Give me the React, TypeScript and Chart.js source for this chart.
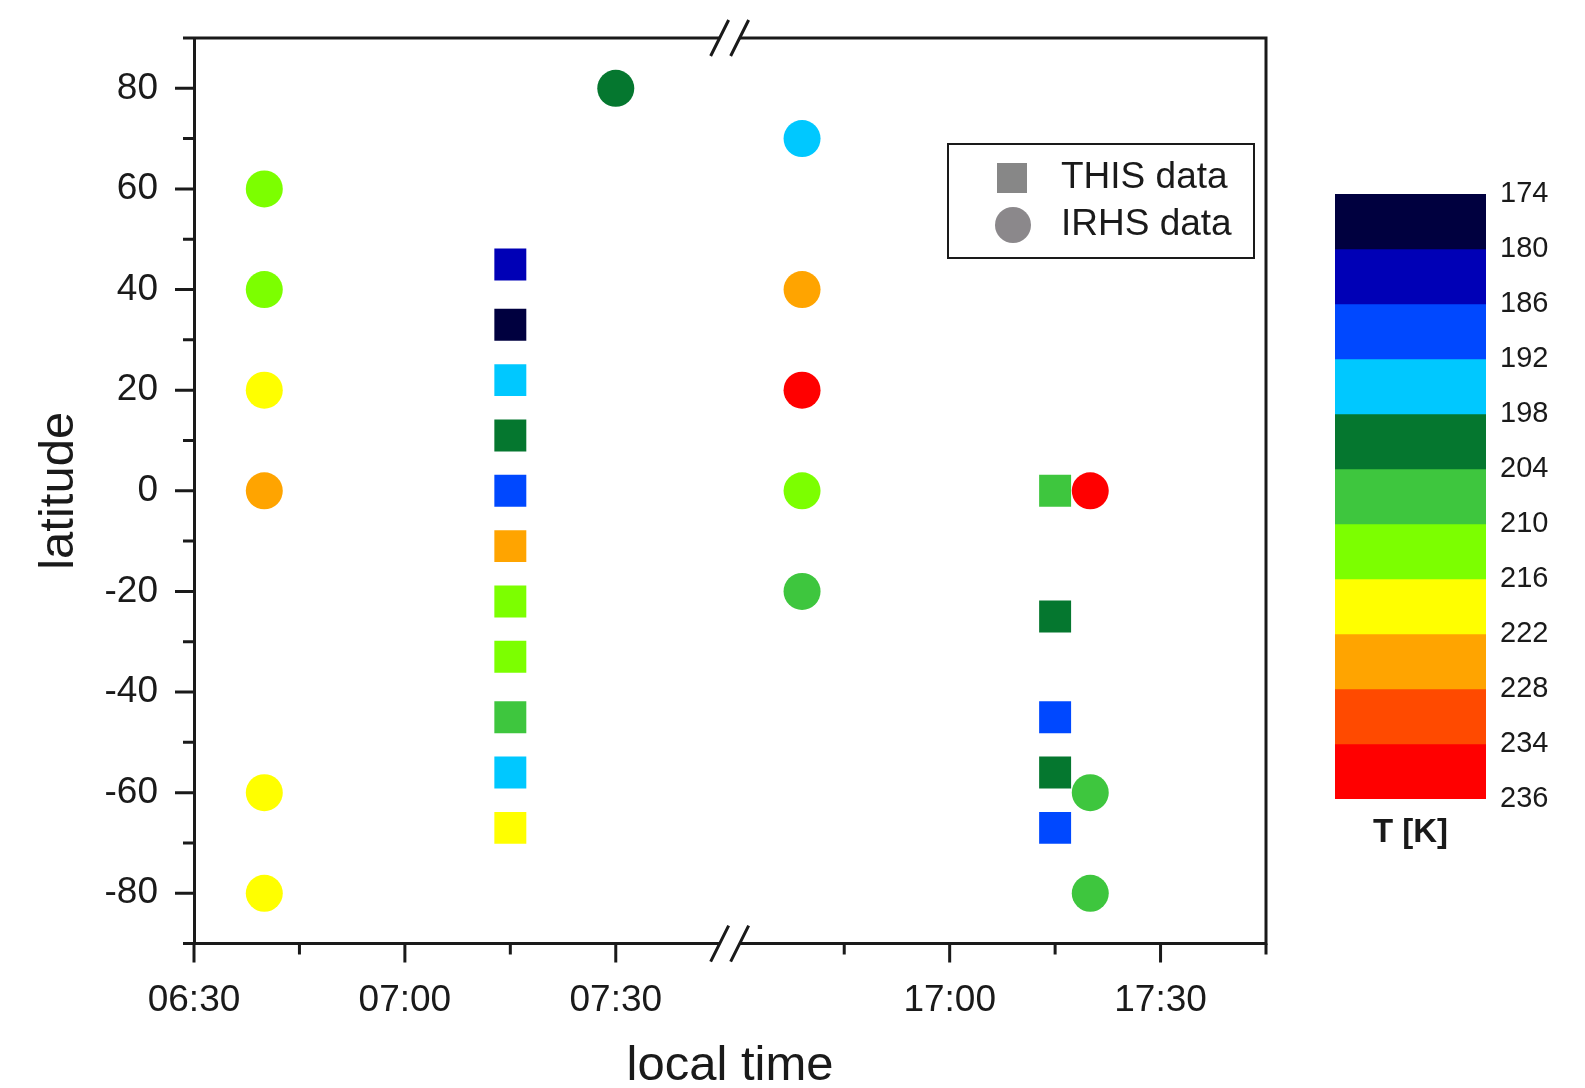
import React, { useEffect, useRef } from "react";
import { Chart, registerables } from "chart.js";

Chart.register(...registerables);

const FONT = "'Liberation Sans', Arial, Helvetica, sans-serif";
const INK = "#1a1a1a";

// ---- data -------------------------------------------------------------
// THIS data (squares): local time, latitude, temperature [K]
const THIS_TIME = [
  "07:15", "07:15", "07:15", "07:15", "07:15", "07:15", "07:15", "07:15", "07:15", "07:15", "07:15",
  "17:15", "17:15", "17:15", "17:15", "17:15",
];
const THIS_LAT = [45, 33, 22, 11, 0, -11, -22, -33, -45, -56, -67, 0, -25, -45, -56, -67];
const THIS_TEMP = [183, 177, 195, 201, 189, 225, 213, 213, 207, 195, 219, 207, 201, 189, 201, 189];

// IRHS data (circles): local time, latitude, temperature [K]
const IRHS_TIME = [
  "06:40", "06:40", "06:40", "06:40", "06:40", "06:40",
  "07:30",
  "16:39", "16:39", "16:39", "16:39", "16:39",
  "17:20", "17:20", "17:20",
];
const IRHS_LAT = [60, 40, 20, 0, -60, -80, 80, 70, 40, 20, 0, -20, 0, -60, -80];
const IRHS_TEMP = [213, 213, 219, 225, 219, 219, 201, 195, 225, 235, 213, 207, 235, 207, 207];

// colour scale
const T_EDGES = [174, 180, 186, 192, 198, 204, 210, 216, 222, 228, 234, 236];
const T_COLORS = [
  "#00003f", "#0000b6", "#0048ff", "#00c8ff", "#05772f", "#3ec63e",
  "#7cff00", "#ffff00", "#ffa400", "#ff4a00", "#ff0000",
];

// axes
const X_TICK_LABELS = ["06:30", "07:00", "07:30", "17:00", "17:30"];
const X_MINOR_TICKS = ["06:45", "07:15", "16:45", "17:15", "17:45"];
const Y_TICKS = [-80, -60, -40, -20, 0, 20, 40, 60, 80];
const Y_MINOR_TICKS = [-90, -70, -50, -30, -10, 10, 30, 50, 70, 90];

// broken time axis: morning segment starts at 06:30, evening 17:00 sits at axis minute 107.5
const MORNING_ORIGIN = "06:30";
const EVENING_REF = "17:00";
const EVENING_REF_AXIS = 107.5;
const BREAK_AXIS = 76.2;
const X_END = "17:45";

const toMin = (t: string) => {
  const [h, m] = t.split(":").map(Number);
  return h * 60 + m;
};
const toAxis = (t: string) => {
  const m = toMin(t);
  if (m < 12 * 60) return m - toMin(MORNING_ORIGIN);
  return m - toMin(EVENING_REF) + EVENING_REF_AXIS;
};
const tempColor = (t: number) => {
  for (let i = 0; i < T_COLORS.length; i++) {
    if (t >= T_EDGES[i] && t < T_EDGES[i + 1]) return T_COLORS[i];
  }
  return T_COLORS[T_COLORS.length - 1];
};

// ---- decorations plugin ----------------------------------------------
const decorPlugin = {
  id: "decor",
  afterDraw(chart: any) {
    const { ctx, chartArea: a, scales } = chart;
    const xs = scales.x;
    const ys = scales.y;
    ctx.save();
    ctx.strokeStyle = INK;
    ctx.lineWidth = 3;
    ctx.lineCap = "butt";
    // frame top and right
    ctx.beginPath();
    ctx.moveTo(a.left, a.top);
    ctx.lineTo(a.right, a.top);
    ctx.moveTo(a.right, a.top - 1.5);
    ctx.lineTo(a.right, a.bottom + 1.5);
    ctx.stroke();
    // tick marks
    ctx.beginPath();
    Y_TICKS.forEach((v) => {
      const p = ys.getPixelForValue(v);
      ctx.moveTo(a.left - 19, p);
      ctx.lineTo(a.left, p);
    });
    Y_MINOR_TICKS.forEach((v) => {
      const p = ys.getPixelForValue(v);
      ctx.moveTo(a.left - 11, p);
      ctx.lineTo(a.left, p);
    });
    X_TICK_LABELS.forEach((t) => {
      const p = xs.getPixelForValue(toAxis(t));
      ctx.moveTo(p, a.bottom);
      ctx.lineTo(p, a.bottom + 19);
    });
    X_MINOR_TICKS.forEach((t) => {
      const p = xs.getPixelForValue(toAxis(t));
      ctx.moveTo(p, a.bottom);
      ctx.lineTo(p, a.bottom + 11);
    });
    ctx.stroke();
    // axis break
    const bx = xs.getPixelForValue(BREAK_AXIS);
    [a.top, a.bottom].forEach((yy: number) => {
      ctx.fillStyle = "#ffffff";
      ctx.fillRect(bx - 10, yy - 3, 20, 6);
      ctx.beginPath();
      [-10, 10].forEach((d) => {
        ctx.moveTo(bx + d - 9, yy + 18);
        ctx.lineTo(bx + d + 9, yy - 18);
      });
      ctx.stroke();
    });
    // legend
    const lx = 948, ly = 144, lw = 306, lh = 114;
    ctx.fillStyle = "#ffffff";
    ctx.fillRect(lx, ly, lw, lh);
    ctx.lineWidth = 2;
    ctx.strokeRect(lx, ly, lw, lh);
    const rows = [178, 225];
    chart.data.datasets.forEach((ds: any, i: number) => {
      const cy = rows[i];
      if (ds.pointStyle === "rect") {
        ctx.fillStyle = "#878787";
        ctx.fillRect(1012 - 15, cy - 15, 30, 30);
      } else {
        ctx.fillStyle = "#8b888b";
        ctx.beginPath();
        ctx.arc(1013, cy, 18, 0, Math.PI * 2);
        ctx.fill();
      }
      ctx.fillStyle = INK;
      ctx.font = `37px ${FONT}`;
      ctx.textBaseline = "middle";
      ctx.textAlign = "left";
      ctx.fillText(ds.label, 1061, cy);
    });
    ctx.restore();
  },
};

export default function App() {
  const mainRef = useRef<HTMLCanvasElement>(null);
  const barRef = useRef<HTMLCanvasElement>(null);

  useEffect(() => {
    Chart.defaults.font.family = FONT;
    Chart.defaults.color = INK;

    const main = new Chart(mainRef.current as HTMLCanvasElement, {
      type: "scatter",
      data: {
        datasets: [
          {
            label: "THIS data",
            data: THIS_TIME.map((t, i) => ({ x: toAxis(t), y: THIS_LAT[i] })),
            pointStyle: "rect",
            pointRadius: 22.6,
            pointBorderWidth: 0,
            backgroundColor: THIS_TEMP.map(tempColor),
            borderColor: "rgba(0,0,0,0)",
            order: 2,
          } as any,
          {
            label: "IRHS data",
            data: IRHS_TIME.map((t, i) => ({ x: toAxis(t), y: IRHS_LAT[i] })),
            pointStyle: "circle",
            pointRadius: 18.5,
            pointBorderWidth: 0,
            backgroundColor: IRHS_TEMP.map(tempColor),
            borderColor: "rgba(0,0,0,0)",
            order: 1,
          } as any,
        ],
      },
      options: {
        animation: false,
        responsive: false,
        events: [],
        layout: { padding: { left: 0, top: 38, right: 34, bottom: 0 } },
        plugins: { legend: { display: false }, tooltip: { enabled: false } },
        scales: {
          x: {
            type: "linear",
            min: 0,
            max: toAxis(X_END),
            afterFit: (s: any) => {
              s.height = 144.4;
              s.paddingLeft = 0;
              s.paddingRight = 0;
            },
            afterBuildTicks: (s: any) => {
              s.ticks = X_TICK_LABELS.map((l) => ({ value: toAxis(l) }));
            },
            ticks: {
              callback: (_v: any, i: number) => X_TICK_LABELS[i],
              font: { family: FONT, size: 37 },
              color: INK,
              padding: 35,
              maxRotation: 0,
              autoSkip: false,
            },
            grid: { display: false, drawTicks: false },
            border: { display: true, color: INK, width: 3 },
            title: {
              display: true,
              text: "local time",
              font: { family: FONT, size: 49, lineHeight: 0.85 },
              color: INK,
              padding: { top: 0, bottom: 0.6 },
            },
          },
          y: {
            type: "linear",
            min: -90,
            max: 90,
            afterFit: (s: any) => {
              s.width = 194;
              s.paddingTop = 0;
              s.paddingBottom = 0;
            },
            afterBuildTicks: (s: any) => {
              s.ticks = Y_TICKS.map((v) => ({ value: v }));
            },
            ticks: {
              callback: (v: any) => String(v),
              font: { family: FONT, size: 37 },
              color: INK,
              padding: 36,
            },
            grid: { display: false, drawTicks: false },
            border: { display: true, color: INK, width: 3 },
            title: {
              display: true,
              text: "latitude",
              font: { family: FONT, size: 49 },
              color: INK,
              padding: { top: 29.6, bottom: 0 },
            },
          },
        },
      },
      plugins: [decorPlugin],
    } as any);

    const bar = new Chart(barRef.current as HTMLCanvasElement, {
      type: "bar",
      data: {
        labels: [""],
        datasets: T_COLORS.map((c, i) => ({
          label: `${T_EDGES[i]}-${T_EDGES[i + 1]}`,
          data: [1],
          backgroundColor: c,
          borderWidth: 0,
          barPercentage: 1,
          categoryPercentage: 1,
        })),
      },
      options: {
        animation: false,
        responsive: false,
        events: [],
        layout: { padding: { left: 35, top: 194, right: 0, bottom: 229 } },
        plugins: { legend: { display: false }, tooltip: { enabled: false } },
        scales: {
          x: {
            stacked: true,
            afterFit: (s: any) => {
              s.height = 60;
            },
            ticks: { display: false },
            grid: { display: false, drawTicks: false },
            border: { display: false },
            title: {
              display: true,
              text: "T [K]",
              font: { family: FONT, size: 33, weight: "bold" },
              color: INK,
              padding: { top: 0, bottom: 6 },
            },
          },
          y: {
            stacked: true,
            position: "right",
            min: 0,
            max: T_COLORS.length,
            reverse: true,
            afterFit: (s: any) => {
              s.width = 99;
              s.paddingTop = 0;
              s.paddingBottom = 0;
            },
            afterBuildTicks: (s: any) => {
              s.ticks = T_EDGES.map((_e, i) => ({ value: i }));
            },
            ticks: {
              callback: (_v: any, i: number) => String(T_EDGES[i]),
              font: { family: FONT, size: 29 },
              color: INK,
              padding: 14,
            },
            grid: { display: false, drawTicks: false },
            border: { display: false },
          },
        },
      },
    } as any);

    return () => {
      main.destroy();
      bar.destroy();
    };
  }, []);

  return (
    <div
      style={{
        position: "fixed",
        left: 0,
        top: 0,
        width: 1585,
        height: 1088,
        background: "#ffffff",
        overflow: "hidden",
      }}
    >
      <canvas
        ref={mainRef}
        width={1300}
        height={1088}
        style={{ position: "absolute", left: 0, top: 0, width: 1300, height: 1088 }}
      />
      <canvas
        ref={barRef}
        width={285}
        height={1088}
        style={{ position: "absolute", left: 1300, top: 0, width: 285, height: 1088 }}
      />
    </div>
  );
}
